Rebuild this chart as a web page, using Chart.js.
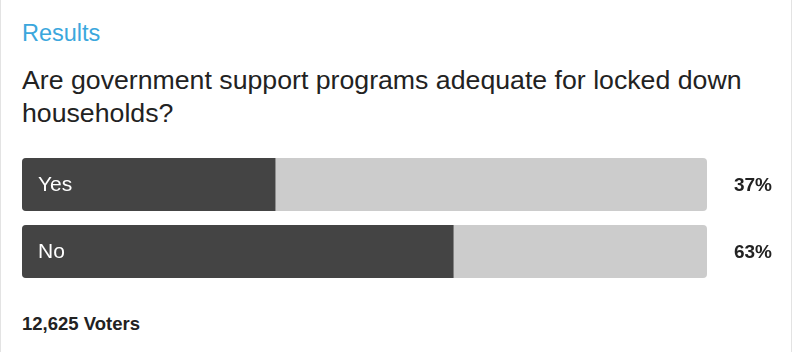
<!DOCTYPE html>
<html>
<head>
<meta charset="utf-8">
<script src="https://cdn.jsdelivr.net/npm/chart.js@4"></script>
<style>
  html, body { margin: 0; padding: 0; background: #fff; }
  body { width: 800px; height: 352px; position: relative; overflow: hidden; font-family: "Liberation Sans", Arial, sans-serif; }
  .card { position: absolute; left: 0; top: -2px; width: 792px; height: 360px; border: 1px solid #e3e3e3; box-sizing: border-box; }
  .head { position: absolute; left: 22px; top: 20px; font-size: 23.5px; color: #3ba7dd; }
  .question { position: absolute; left: 22px; top: 64px; width: 760px; font-size: 26.7px; line-height: 33px; color: #222; }
  .voters { position: absolute; left: 22px; top: 313px; font-size: 18.5px; font-weight: bold; color: #222; }
  #wrap { position: absolute; left: 0; top: 0; width: 800px; height: 352px; }
</style>
</head>
<body>
<div class="card"></div>
<div class="head">Results</div>
<div class="question">Are government support programs adequate for locked down households?</div>
<div class="voters">12,625 Voters</div>
<div id="wrap"><canvas id="pollChart"></canvas></div>
<script>
const answers = ["Yes", "No"];
const percents = [37, 63];
const fullTrack = [100, 100];

// labels inside bars + percentages on the right
const pollLabels = {
    id: "pollLabels",
    afterDatasetsDraw(chart) {
        const ctx = chart.ctx;
        const meta = chart.getDatasetMeta(1);
        ctx.save();
        ctx.textBaseline = "middle";
        meta.data.forEach((bar, i) => {
            ctx.fillStyle = "#ffffff";
            ctx.textAlign = "left";
            ctx.font = "21px 'Liberation Sans', Arial, sans-serif";
            ctx.fillText(answers[i], chart.chartArea.left + 16, bar.y + 1);
            ctx.fillStyle = "#222222";
            ctx.textAlign = "right";
            ctx.font = "bold 19px 'Liberation Sans', Arial, sans-serif";
            ctx.fillText(percents[i] + "%", 772, bar.y + 1);
        });
        ctx.restore();
    }
};

const ctx = document.getElementById("pollChart").getContext("2d");
const myChart = new Chart(ctx, {
    type: "bar",
    data: {
        labels: answers,
        datasets: [
            {
                label: "track",
                data: fullTrack,
                backgroundColor: "#cccccc",
                borderRadius: 4,
                borderSkipped: false,
                grouped: false,
                order: 2,
                barPercentage: 53 / 67,
                categoryPercentage: 1
            },
            {
                label: "votes",
                data: percents,
                backgroundColor: "#444444",
                borderRadius: { topLeft: 4, bottomLeft: 4, topRight: 0, bottomRight: 0 },
                borderSkipped: false,
                grouped: false,
                order: 1,
                barPercentage: 53 / 67,
                categoryPercentage: 1
            }
        ]
    },
    options: {
        indexAxis: "y",
        responsive: true,
        maintainAspectRatio: false,
        animation: false,
        layout: { padding: { left: 22, right: 93, top: 151, bottom: 67 } },
        plugins: { legend: { display: false }, tooltip: { enabled: false } },
        scales: {
            x: { min: 0, max: 100, display: false },
            y: { display: false }
        }
    },
    plugins: [pollLabels]
});
</script>
</body>
</html>
